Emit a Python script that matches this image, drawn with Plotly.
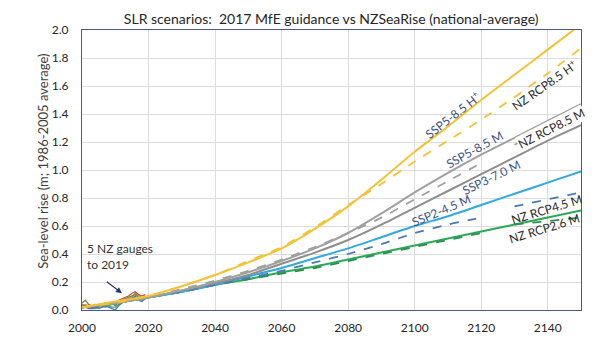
import plotly.graph_objects as go

# ---- Data -------------------------------------------------------------
years = [2000, 2010, 2020, 2030, 2040, 2050, 2060, 2070, 2080, 2090,
         2100, 2110, 2120, 2130, 2140, 2150]

# NZSeaRise national-average projections (m, 1986-2005 baseline)
ssp585_hplus = [0.02, 0.06, 0.10, 0.17, 0.25, 0.34, 0.44, 0.58, 0.74, 0.93,
                1.13, 1.31, 1.50, 1.68, 1.86, 2.04]
ssp585_m = [0.02, 0.05, 0.09, 0.14, 0.20, 0.27, 0.35, 0.44, 0.55, 0.69,
            0.84, 0.98, 1.11, 1.23, 1.35, 1.47]
ssp370_m = [0.02, 0.05, 0.09, 0.14, 0.19, 0.25, 0.33, 0.41, 0.50, 0.61,
            0.73, 0.85, 0.97, 1.09, 1.21, 1.32]
ssp245_m = [0.02, 0.05, 0.09, 0.13, 0.18, 0.24, 0.30, 0.37, 0.44, 0.52,
            0.60, 0.67, 0.75, 0.83, 0.91, 0.99]
ssp126_m = [0.02, 0.05, 0.09, 0.13, 0.18, 0.22, 0.27, 0.31, 0.36, 0.41,
            0.46, 0.51, 0.56, 0.61, 0.66, 0.71]

# 2017 MfE guidance scenarios (None = no value plotted)
nz_rcp85_hplus = [0.02, 0.05, 0.10, 0.17, 0.25, 0.35, 0.45, 0.59, 0.75, 0.90,
                  1.06, 1.21, 1.36, 1.52, 1.69, 1.87]
nz_rcp85_m = [0.02, 0.05, 0.09, 0.15, 0.21, 0.28, 0.36, 0.45, 0.55, 0.66,
              0.79, 0.92, 1.05, None, None, None]
nz_rcp45_m = [0.02, 0.05, 0.09, 0.13, 0.18, 0.23, 0.28, 0.34, 0.40, 0.47,
              0.55, 0.61, 0.66, None, None, None]
nz_rcp26_m = [0.02, 0.05, 0.09, 0.13, 0.18, 0.22, 0.26, 0.30, 0.35, 0.40,
              0.45, 0.50, 0.55, None, None, None]

# 2130-2150 continuation of the MfE scenarios beside their labels
tail_years = [2130, 2150]
nz_rcp85_m_tail = [1.18, 1.41]
nz_rcp45_m_tail = [0.74, 0.84]
nz_rcp26_m_tail = [0.61, 0.66]

# Annual mean sea level at five NZ tide gauges
gauge_years = list(range(2000, 2020))
gauge_a = [0.04, 0.03, 0.03, 0.02, 0.03, 0.03, 0.04, 0.04, 0.05, 0.05,
           0.05, 0.07, 0.08, 0.09, 0.10, 0.12, 0.13, 0.11, 0.10, 0.11]
gauge_b = [0.05, 0.07, 0.04, 0.03, 0.04, 0.03, 0.04, 0.05, 0.04, 0.05,
           0.03, 0.06, 0.07, 0.08, 0.09, 0.10, 0.11, 0.09, 0.08, 0.10]
gauge_c = [0.03, 0.02, 0.01, 0.01, 0.02, 0.01, 0.02, 0.03, 0.02, 0.01,
           0.00, 0.03, 0.05, 0.06, 0.07, 0.08, 0.10, 0.07, 0.06, 0.08]
gauge_d = [0.02, 0.04, 0.03, 0.02, 0.02, 0.03, 0.03, 0.02, 0.03, 0.04,
           0.04, 0.05, 0.06, 0.07, 0.08, 0.09, 0.12, 0.10, 0.09, 0.09]
gauge_e = [0.01, 0.02, 0.02, 0.01, 0.01, 0.02, 0.02, 0.03, 0.03, 0.02,
           0.02, 0.04, 0.05, 0.06, 0.07, 0.08, 0.09, 0.08, 0.07, 0.08]

x_ticks = [2000, 2020, 2040, 2060, 2080, 2100, 2120, 2140]
y_ticks = [0.0, 0.2, 0.4, 0.6, 0.8, 1.0, 1.2, 1.4, 1.6, 1.8, 2.0]

# ---- Styling ----------------------------------------------------------
YELLOW = "#F5C232"
GRAY = "#A0A0A0"
DGRAY = "#8E8E8E"
BLUE = "#2EAAE0"
BLUE_D = "#4E79B5"
GREEN = "#2BAA56"
GREEN_D = "#2C8E50"
SSP_TXT = "#3E5383"
NZ_TXT = "#2B2B2B"
FONT = "Lato"

fig = go.Figure()


def add_line(x, y, color, dash="solid", width=2.0, smooth=True):
    shape = dict(shape="spline", smoothing=0.6) if smooth else {}
    fig.add_trace(go.Scatter(x=x, y=y, mode="lines", showlegend=False,
                             connectgaps=False, hoverinfo="skip",
                             line=dict(color=color, width=width, dash=dash,
                                       **shape)))


# tide gauges
for g, c in [(gauge_d, "#9C9C6A"), (gauge_b, "#6F8F3A"), (gauge_e, "#3FA58A"),
             (gauge_c, "#4A7CB0"), (gauge_a, "#D9453A")]:
    add_line(gauge_years, g, c, width=1.3, smooth=False)

# projections
add_line(years, ssp126_m, GREEN, width=2.0)
add_line(years, nz_rcp26_m, GREEN_D, dash="dash", width=1.8)
add_line(tail_years, nz_rcp26_m_tail, GREEN_D, dash="dash", width=1.8)
add_line(years, ssp245_m, BLUE, width=2.0)
add_line(years, nz_rcp45_m, BLUE_D, dash="dash", width=1.8)
add_line(tail_years, nz_rcp45_m_tail, BLUE_D, dash="dash", width=1.8)
add_line(years, ssp370_m, DGRAY, width=2.0)
add_line(years, ssp585_m, GRAY, width=2.0)
add_line(years, nz_rcp85_m, GRAY, dash="dash", width=1.8)
add_line(tail_years, nz_rcp85_m_tail, GRAY, dash="dash", width=1.8)
add_line(years, nz_rcp85_hplus, YELLOW, dash="dash", width=1.8)
add_line(years, ssp585_hplus, YELLOW, width=2.0)

# scenario labels written along the curves (text, x, y, angle, colour, box)
labels = [
    ("SSP5-8.5 H<sup>+</sup>", 2111.5, 1.39, -38, SSP_TXT, None),
    ("NZ RCP8.5 H<sup>+</sup>", 2139, 1.61, -35, NZ_TXT, None),
    ("NZ RCP8.5 M", 2141, 1.295, -27, NZ_TXT, "white"),
    ("SSP5-8.5 M", 2118, 1.15, -29, SSP_TXT, None),
    ("SSP3-7.0 M", 2123, 0.95, -26, SSP_TXT, None),
    ("SSP2-4.5 M", 2108, 0.71, -23, SSP_TXT, None),
    ("NZ RCP4.5 M", 2139.5, 0.72, -17, NZ_TXT, None),
    ("NZ RCP2.6 M", 2139, 0.58, -17, NZ_TXT, None),
]
for text, x, y, ang, col, bg in labels:
    fig.add_annotation(x=x, y=y, text=text, textangle=ang, showarrow=False,
                       bgcolor=bg if bg else "rgba(0,0,0,0)", borderpad=0,
                       font=dict(family=FONT, size=12, color=col))

# gauge note with arrow
fig.add_annotation(x=2012, y=0.12, ax=2007, ay=0.21, xref="x", yref="y",
                   axref="x", ayref="y", text="", showarrow=True,
                   arrowhead=2, arrowsize=1, arrowwidth=1.2,
                   arrowcolor="#1F3864")
fig.add_annotation(x=2001, y=0.385, text="5 NZ gauges<br>to 2019",
                   showarrow=False, xanchor="left", align="left",
                   font=dict(family=FONT, size=12, color="#333333"))

# y-axis title
fig.add_annotation(xref="paper", yref="paper", x=-0.098, y=0.53,
                   text="Sea-level rise (m; 1986-2005 average)",
                   textangle=-90, showarrow=False,
                   font=dict(family=FONT, size=13, color="#404040"))

fig.update_layout(
    width=600, height=347,
    margin=dict(l=82, r=19, t=30, b=37),
    paper_bgcolor="white", plot_bgcolor="white",
    title=dict(text="SLR scenarios:  2017 MfE guidance vs NZSeaRise (national-average)",
               x=0.552, xanchor="center", y=0.945, yanchor="middle",
               font=dict(family=FONT, size=14, color="#262626")),
    font=dict(family=FONT, size=12, color="#404040"),
)
fig.update_xaxes(range=[2000, 2150], tickvals=x_ticks, showgrid=True,
                 gridcolor="#DCDCDC", gridwidth=1, zeroline=False,
                 showline=True, linecolor="#4A5A86", linewidth=1.2, mirror=True,
                 ticks="", ticklabelstandoff=6,
                 tickfont=dict(family=FONT, size=12, color="#262626"))
fig.update_yaxes(range=[0, 2.0], tickvals=y_ticks, tickformat=".1f",
                 showgrid=True, gridcolor="#DCDCDC", gridwidth=1,
                 zeroline=False, showline=True, linecolor="#4A5A86",
                 linewidth=1.2, mirror=True, ticks="", ticklabelstandoff=10,
                 tickfont=dict(family=FONT, size=12, color="#262626"))

fig.write_html("out.html")
